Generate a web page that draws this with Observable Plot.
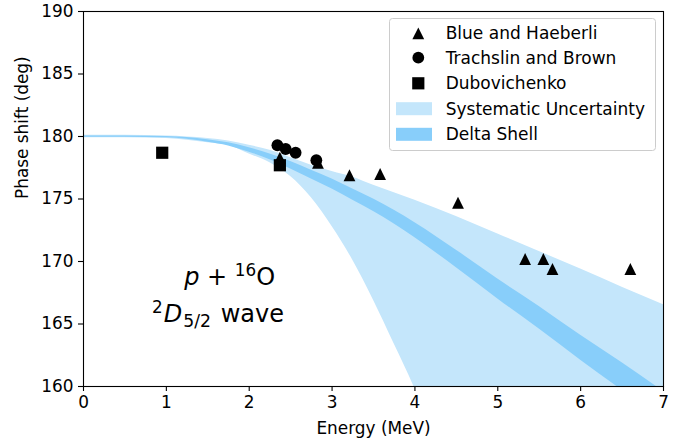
<!DOCTYPE html>
<html><head><meta charset="utf-8">
<script src="https://cdn.jsdelivr.net/npm/d3@7"></script>
<script src="https://cdn.jsdelivr.net/npm/@observablehq/plot@0.6"></script>
<style>
body{margin:0;background:#fff;}
#chart{width:685px;height:442px;}
svg text{font-family:"DejaVu Sans",sans-serif;}
</style></head><body><div id="chart"></div>
<script>
// Experimental data
const blueE = [2.37, 2.83, 3.21, 3.58, 4.52, 5.33, 5.55, 5.66, 6.60];
const blueP = [178.3, 177.9, 176.9, 177.0, 174.7, 170.2, 170.2, 169.4, 169.4];
const trachE = [2.34, 2.44, 2.56, 2.81];
const trachP = [179.3, 179.0, 178.7, 178.1];
const dubE = [0.95, 2.37];
const dubP = [178.7, 177.7];

// Bands
const bandE = [0, 0.5, 1, 1.5, 1.75, 2, 2.25, 2.5, 2.75, 3, 3.25, 3.5, 3.75, 4, 4.5, 5, 5.5, 6, 6.5, 7];
const sysHi = [180.1, 180.1, 180.05, 179.85, 179.65, 179.3, 178.9, 178.3, 177.7, 177.2, 176.75, 176.1, 175.5, 174.9, 173.6, 172.2, 170.8, 169.4, 167.95, 166.55];
const sysLo = [179.9, 179.9, 179.85, 179.5, 179.3, 178.6, 177.9, 176.8, 175.1, 172.8, 170.1, 166.9, 163.4, 159.8, 150, 150, 150, 150, 150, 150];
const dsHi  = [180.05, 180.05, 180.0, 179.75, 179.5, 179.1, 178.6, 178.0, 177.3, 176.6, 175.8, 175.0, 174.1, 173.1, 170.9, 168.6, 166.4, 164.1, 161.9, 159.6];
const dsLo  = [179.95, 179.95, 179.9, 179.55, 179.25, 178.75, 178.15, 177.4, 176.6, 175.8, 174.9, 174.0, 173.0, 171.9, 169.5, 167.0, 164.6, 162.1, 159.7, 157.3];

const xTicks = [0, 1, 2, 3, 4, 5, 6, 7];
const yTicks = [160, 165, 170, 175, 180, 185, 190];
const legendLabels = ["Blue and Haeberli", "Trachslin and Brown", "Dubovichenko", "Systematic Uncertainty", "Delta Shell"];

const lightBlue = "#c4e6fb", deepBlue = "#88cefa";

const band = bandE.map((e, i) => ({e, sysHi: sysHi[i], sysLo: sysLo[i], dsHi: dsHi[i], dsLo: dsLo[i]}));
const blue = blueE.map((e, i) => ({e, p: blueP[i]}));
const trach = trachE.map((e, i) => ({e, p: trachP[i]}));
const dub = dubE.map((e, i) => ({e, p: dubP[i]}));

const triSym = {draw(ctx, size) { const a = Math.sqrt(size / Math.PI); ctx.moveTo(0, -a); ctx.lineTo(a, a); ctx.lineTo(-a, a); ctx.closePath(); }};
const sqSym = {draw(ctx, size) { const a = Math.sqrt(size / Math.PI); ctx.rect(-a, -a, 2 * a, 2 * a); }};

const plot = Plot.plot({
  width: 685, height: 442,
  marginLeft: 83, marginRight: 22, marginTop: 11, marginBottom: 56,
  style: {fontSize: "16.9px", fontFamily: "DejaVu Sans", color: "black", background: "white"},
  x: {domain: [0, 7]},
  y: {domain: [160, 190]},
  marks: [
    Plot.areaY(band, {x: "e", y1: "sysLo", y2: "sysHi", fill: lightBlue, curve: "monotone-x", clip: true}),
    Plot.areaY(band, {x: "e", y1: "dsLo", y2: "dsHi", fill: deepBlue, curve: "monotone-x", clip: true}),
    Plot.dot(blue, {x: "e", y: "p", symbol: triSym, r: 5.9, fill: "black", stroke: null}),
    Plot.dot(trach, {x: "e", y: "p", symbol: "circle", r: 5.9, fill: "black", stroke: null}),
    Plot.dot(dub, {x: "e", y: "p", symbol: sqSym, r: 6.1, fill: "black", stroke: null}),
    Plot.frame({stroke: "black", strokeWidth: 1.1}),
    Plot.axisX({ticks: xTicks, tickFormat: "d", tickSize: 5, tickPadding: 4, label: null, strokeWidth: 1.1}),
    Plot.axisY({ticks: yTicks, tickFormat: "d", tickSize: 5, tickPadding: 5, label: null, strokeWidth: 1.1}),
    Plot.text(["Energy (MeV)"], {text: d => d, frameAnchor: "bottom", dy: 42, lineAnchor: "middle", fontSize: 16.9}),
    Plot.text(["Phase shift (deg)"], {text: d => d, frameAnchor: "left", dx: -61, rotate: -90, lineAnchor: "middle", fontSize: 16.9})
  ]
});
document.getElementById("chart").appendChild(plot);

const svg = d3.select(plot);
const sx = plot.scale("x"), sy = plot.scale("y");

// Annotation
const ann = svg.append("g").attr("font-size", 24).attr("fill", "black").attr("text-anchor", "middle");
const t1 = ann.append("text").attr("x", sx.apply(1.77)).attr("y", sy.apply(168.1));
t1.append("tspan").attr("font-style", "italic").text("p");
t1.append("tspan").text(" + ");
t1.append("tspan").attr("font-size", "70%").attr("dy", -9).text("16");
t1.append("tspan").attr("dy", 9).text("O");
const t2 = ann.append("text").attr("x", sx.apply(1.63)).attr("y", sy.apply(165.15));
t2.append("tspan").attr("font-size", "70%").attr("dy", -9).text("2");
t2.append("tspan").attr("font-style", "italic").attr("dy", 9).attr("dx", 1).text("D");
t2.append("tspan").attr("font-size", "72%").attr("dy", 5).attr("dx", 1).text("5/2");
t2.append("tspan").attr("dy", -5).attr("dx", 2).text(" wave");

// Legend
const lg = svg.append("g").attr("font-size", 17).attr("text-anchor", "start");
lg.append("rect").attr("x", 389.5).attr("y", 18.5).attr("width", 266).attr("height", 132).attr("rx", 3)
  .attr("fill", "white").attr("fill-opacity", 0.8).attr("stroke", "#cccccc").attr("stroke-width", 1);
const rows = [33.3, 57.7, 83.3, 108.7, 134.3];
const mx = 418.3;
const sym = (s, r) => d3.symbol().type(s).size(Math.PI * r * r)();
lg.append("path").attr("transform", `translate(${mx},${rows[0]})`).attr("d", sym(triSym, 5.9)).attr("fill", "black");
lg.append("path").attr("transform", `translate(${mx},${rows[1]})`).attr("d", sym(d3.symbolCircle, 5.9)).attr("fill", "black");
lg.append("path").attr("transform", `translate(${mx},${rows[2]})`).attr("d", sym(sqSym, 6.1)).attr("fill", "black");
lg.append("rect").attr("x", 396).attr("y", rows[3] - 6.5).attr("width", 36).attr("height", 13).attr("fill", lightBlue);
lg.append("rect").attr("x", 396).attr("y", rows[4] - 6.5).attr("width", 36).attr("height", 13).attr("fill", deepBlue);
legendLabels.forEach((l, i) => {
  lg.append("text").attr("x", 445.7).attr("y", rows[i]).attr("dy", "0.36em").attr("fill", "black").text(l);
});
</script>
</body></html>
